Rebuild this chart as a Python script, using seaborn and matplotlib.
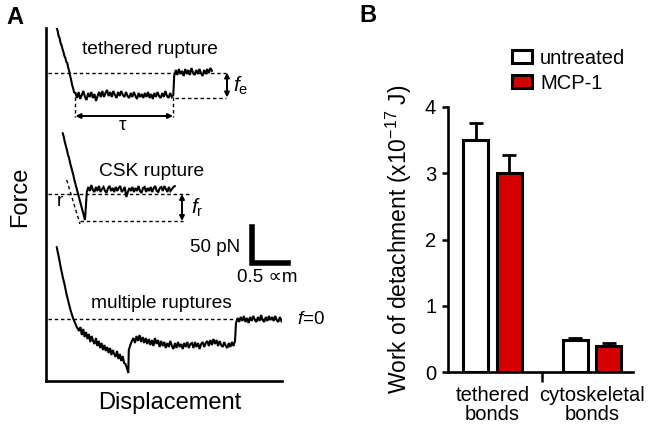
import numpy as np
import pandas as pd
import matplotlib
matplotlib.use("Agg")
import matplotlib.pyplot as plt
from matplotlib.patches import Patch
import seaborn as sns

sns.set_theme(style="ticks")
plt.rcParams['font.family'] = ['Liberation Sans', 'DejaVu Sans']
plt.rcParams['mathtext.fontset'] = 'custom'
plt.rcParams['mathtext.rm'] = 'Liberation Sans'
plt.rcParams['mathtext.it'] = 'Liberation Sans:italic'
for k in ['text.color', 'axes.labelcolor', 'xtick.color', 'ytick.color', 'axes.edgecolor']:
    plt.rcParams[k] = 'black'

# ---------------- Panel B data ----------------
bond_types = ["tethered\nbonds", "cytoskeletal\nbonds"]
treatments = ["untreated", "MCP-1"]
work_untreated = [3.50, 0.48]
work_mcp1 = [3.00, 0.39]
sem_untreated = [0.26, 0.04]
sem_mcp1 = [0.27, 0.05]
yticks_B = [0, 1, 2, 3, 4]
bar_colors = {"untreated": "white", "MCP-1": "#d40000"}

# ---------------- Panel A traces (displacement, force in drawing units) ----------------
# tethered rupture
t1_desc = [28, 31, 36, 38, 43, 45, 49, 52, 56, 58, 62, 63, 68, 71, 76, 80, 85, 88, 92, 93]
t1_flat = [93, 98, 92, 99, 95, 91, 97, 100, 93, 97, 92, 98, 94, 101, 96, 92, 97, 91, 97, 93, 90,
           96, 92, 97, 91, 95, 98, 92, 96, 91, 95, 97, 92, 96, 98, 93, 97, 92, 96, 99, 93, 97,
           94, 98, 93, 97, 92, 98, 94, 99, 93, 97, 92, 96, 98, 93, 97, 91, 96, 98, 93, 97, 95]
t1_top = [76, 70, 75, 69, 74, 71, 76, 69, 74, 70, 75, 68, 73, 75, 70, 74, 69, 73, 76, 70, 74,
          69, 73, 68, 71]
# CSK rupture
t2_desc = [133, 137, 142, 146, 150, 155, 158, 163, 167, 171, 175, 180, 184, 188, 192, 196, 200,
           204, 208, 212, 216, 220]
t2_flat = [192, 187, 191, 185, 190, 192, 187, 191, 186, 192, 189, 187, 191, 193, 188, 186, 191,
           188, 192, 187, 191, 188, 186, 192, 190, 187, 197, 192, 188, 191, 187, 192, 188, 191,
           186, 191, 193, 188, 187, 192, 188, 191, 187, 192, 188, 186, 191, 192, 188, 187, 191,
           186, 189, 192, 187, 191, 189, 187, 186]
# multiple ruptures
t3_desc = [247, 253, 259, 266, 272, 278, 283, 289, 295, 300, 305, 310, 314, 318, 321, 324, 327, 329]
t3_slope = [331, 327, 335, 329, 337, 332, 339, 334, 342, 336, 341, 344, 338, 346, 341, 348, 343,
            350, 345, 351, 347, 353, 348, 355, 350, 354, 357, 351, 359, 354, 361, 356, 363, 364,
            368, 373]
t3_mid = [350, 345, 341, 338, 343, 336, 341, 335, 342, 337, 343, 338, 344, 339, 345, 340, 346,
          338, 344, 340, 347, 341, 346, 342, 348, 343, 347, 341, 346, 349, 343, 348, 342, 347,
          344, 349, 343, 347, 342, 348, 344, 343, 348, 342, 347, 343, 349, 344, 342, 347, 343,
          341, 346, 340, 345, 339, 344, 340, 346, 341, 345, 347, 342, 346, 348, 343, 347, 342,
          346, 341]
t3_top = [323, 318, 322, 317, 321, 316, 322, 318, 323, 317, 321, 316, 320, 322, 317, 321, 315,
          320, 322, 317, 321, 316, 320, 317, 321, 316, 320, 322, 317, 321, 319]


def seg(x0, x1, ys):
    return np.linspace(x0, x1, len(ys)), np.asarray(ys, float)


def trace(*segs):
    xs = np.concatenate([s[0] for s in segs])
    ys = np.concatenate([s[1] for s in segs])
    return xs, ys


W, H = 654, 425
fig = plt.figure(figsize=(W / 100, H / 100), dpi=100)
fig.patch.set_facecolor("white")

# ---------------- Panel A ----------------
axA = fig.add_axes([46 / W, 1 - 381 / H, (282 - 46) / W, (381 - 28) / H])
axA.set_xlim(46, 282)
axA.set_ylim(381, 28)
axA.set_xticks([])
axA.set_yticks([])
for s in ["top", "right"]:
    axA.spines[s].set_visible(False)
for s in ["left", "bottom"]:
    axA.spines[s].set_linewidth(1.9)
    axA.spines[s].set_color("black")

tr_kw = dict(color="black", lw=1.5, solid_joinstyle="miter")
dash_kw = dict(color="black", lw=1.0, ls=(0, (2.5, 2.0)))

x, y = trace(seg(56.7, 75, t1_desc), seg(75.5, 173.3, t1_flat), seg(174.2, 212, t1_top))
sns.lineplot(x=x, y=y, ax=axA, sort=False, estimator=None, **tr_kw)
x, y = trace(seg(62.7, 85, t2_desc), seg(86.8, 175, t2_flat))
sns.lineplot(x=x, y=y, ax=axA, sort=False, estimator=None, **tr_kw)
x, y = trace(seg(56.7, 78, t3_desc), seg(79, 128.3, t3_slope), seg(128.8, 235, t3_mid),
             seg(236, 283, t3_top))
sns.lineplot(x=x, y=y, ax=axA, sort=False, estimator=None, **tr_kw)

# guide lines
axA.plot([48, 226], [72.5, 72.5], **dash_kw)
axA.plot([175, 226], [97.5, 97.5], **dash_kw)
axA.plot([75, 75], [97, 117], **dash_kw)
axA.plot([173.3, 173.3], [97, 117], **dash_kw)
axA.plot([48, 192], [194, 194], **dash_kw)
axA.plot([80, 183], [220.7, 220.7], **dash_kw)
axA.plot([66.7, 80], [180, 224], **dash_kw)
axA.plot([48, 295], [319, 319], **dash_kw)

arr = dict(arrowstyle="<|-|>", lw=1.4, color="black", mutation_scale=7, shrinkA=0, shrinkB=0)
axA.annotate("", xy=(227, 72.5), xytext=(227, 97.5), arrowprops=arr, annotation_clip=False)
axA.annotate("", xy=(182, 194), xytext=(182, 221), arrowprops=arr, annotation_clip=False)
axA.annotate("", xy=(75.5, 116), xytext=(173, 116), arrowprops=arr, annotation_clip=False)

# scale bar
axA.plot([252, 252, 288], [227, 263, 263], color="black", lw=4, solid_capstyle="projecting",
         solid_joinstyle="miter", clip_on=False)

tk = dict(ha="center", va="center", fontsize=13.8, clip_on=False)
axA.text(150, 50, "tethered rupture", **tk)
axA.text(152, 172, "CSK rupture", **tk)
axA.text(161, 304, "multiple ruptures", **tk)
axA.text(122, 126, "τ", **tk)
axA.text(60, 202, "r", **tk)
axA.text(240, 247, "50 pN", ha="right", va="center", fontsize=13.5, clip_on=False)
axA.text(267, 278, "0.5 ∝m", ha="center", va="center", fontsize=13.5, clip_on=False)
axA.text(297, 319, r"$\mathit{f}$=0", ha="left", va="center", fontsize=13.5, clip_on=False)
axA.text(233, 86, r"$\mathit{f}_{\mathrm{e}}$", ha="left", va="center", fontsize=15, clip_on=False)
axA.text(191, 208, r"$\mathit{f}_{\mathrm{r}}$", ha="left", va="center", fontsize=15, clip_on=False)
axA.text(20, 197, "Force", rotation=90, ha="center", va="center", fontsize=17, clip_on=False)
axA.text(170, 403, "Displacement", ha="center", va="center", fontsize=17, clip_on=False)
axA.text(15, 17, "A", ha="center", va="center", fontsize=17, fontweight="bold", clip_on=False)
axA.text(368, 15, "B", ha="center", va="center", fontsize=17, fontweight="bold", clip_on=False)

# ---------------- Panel B ----------------
axB = fig.add_axes([448 / W, 1 - 372 / H, (633 - 448) / W, (372 - 107) / H])
df = pd.DataFrame({
    "bond": bond_types * 2,
    "treatment": [treatments[0]] * 2 + [treatments[1]] * 2,
    "work": work_untreated + work_mcp1,
})
sns.barplot(data=df, x="bond", y="work", hue="treatment", hue_order=treatments,
            palette=bar_colors, saturation=1, width=0.67, gap=0.25, edgecolor="black",
            linewidth=2.2, errorbar=None, legend=False, ax=axB)

means = [work_untreated, work_mcp1]
sems = [sem_untreated, sem_mcp1]
for cont, m, e in zip(axB.containers, means, sems):
    xs = [p.get_x() + p.get_width() / 2 for p in cont.patches]
    axB.errorbar(xs, m, yerr=[np.zeros(len(e)), e], fmt="none", ecolor="black",
                 elinewidth=2.0, capsize=5, capthick=2.0, zorder=1)

axB.set_xlim(-0.447, 1.41)
axB.set_ylim(0, 4)
axB.set_yticks(yticks_B)
axB.set_yticklabels([str(v) for v in yticks_B])
axB.set_xticks([0, 1])
axB.set_xticklabels(bond_types, fontsize=14.5, linespacing=1.0)
axB.set_xticks([0.5], minor=True)
axB.tick_params(axis="x", which="major", length=0, pad=10)
axB.tick_params(axis="x", which="minor", length=7.5, width=1.8, direction="out", color="black")
axB.tick_params(axis="y", which="major", length=4.5, width=1.8, direction="out",
                labelsize=14.5, color="black", pad=4)
axB.set_xlabel("")
axB.set_ylabel("Work of detachment (x10$^{-17}$ J)", fontsize=16.5, labelpad=8)
for s in ["top", "right"]:
    axB.spines[s].set_visible(False)
for s in ["left", "bottom"]:
    axB.spines[s].set_linewidth(1.9)
    axB.spines[s].set_color("black")

handles = [Patch(facecolor=bar_colors[t], edgecolor="black", linewidth=2.2, label=t)
           for t in treatments]
fig.legend(handles=handles, loc="upper left", bbox_to_anchor=(512 / W, 1 - 49 / H),
           frameon=False, fontsize=14.5, handlelength=1.0, handleheight=0.62,
           handletextpad=0.4, labelspacing=0.3, borderpad=0, borderaxespad=0)

fig.savefig("out.png", dpi=100, facecolor="white")
